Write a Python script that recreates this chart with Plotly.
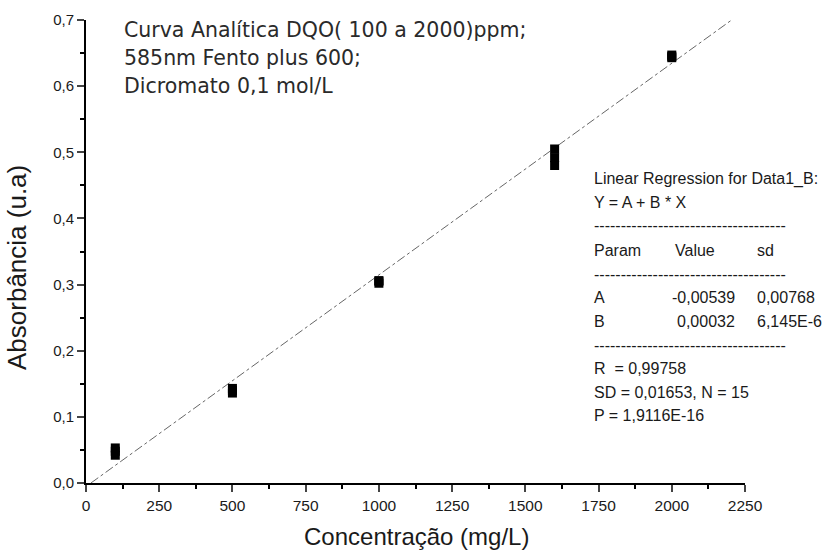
import plotly.graph_objects as go
import numpy as np

# Data (mg/L vs absorbance), 3 replicates per level
conc = [100, 100, 100, 500, 500, 500, 1000, 1000, 1000, 1600, 1600, 1600, 2000, 2000, 2000]
absb = [0.042, 0.048, 0.053, 0.136, 0.140, 0.143, 0.302, 0.305, 0.306, 0.480, 0.492, 0.505, 0.643, 0.645, 0.647]

# Regression parameters
A = -0.00539
B = 0.00032
fit_x = [17, 2250]

x_ticks = [0, 250, 500, 750, 1000, 1250, 1500, 1750, 2000, 2250]
y_ticks = [0.0, 0.1, 0.2, 0.3, 0.4, 0.5, 0.6, 0.7]
y_ticktext = ["0,0", "0,1", "0,2", "0,3", "0,4", "0,5", "0,6", "0,7"]

title_lines = ["Curva Analítica DQO( 100 a 2000)ppm;", "585nm Fento plus 600;", "Dicromato 0,1 mol/L"]

fig = go.Figure()
fx = np.array(fit_x, dtype=float)
fig.add_trace(go.Scatter(x=fx, y=A + B * fx, mode="lines",
                         line=dict(color="#666666", width=1, dash="dashdot"),
                         showlegend=False, hoverinfo="skip"))
fig.add_trace(go.Scatter(x=conc, y=absb, mode="markers",
                         marker=dict(symbol="square", size=9, color="black"),
                         showlegend=False))

L, R, T, Bm = 86, 84, 20, 68
W, H = 829, 551
pw, ph = W - L - R, H - T - Bm

def px(xp):
    return (xp - L) / pw

def py(yp):
    return (H - Bm - yp) / ph

font = "Liberation Sans, Arial, sans-serif"
wide = "DejaVu Sans, Verdana, sans-serif"
ink = "#1a1a1a"
annots = []
for i, t in enumerate(title_lines):
    annots.append(dict(x=px(122), y=py([30, 58, 86][i]), xref="paper", yref="paper", text=t,
                       showarrow=False, xanchor="left", yanchor="middle",
                       font=dict(size=20.5, color="#2a2a2a", family=wide)))

reg = [
    (592, 179, "Linear Regression for Data1_B:"),
    (592, 202, "Y = A + B * X"),
    (592, 226, "------------------------------------"),
    (592, 250, "Param"), (673, 250, "Value"), (755, 250, "sd"),
    (592, 274, "------------------------------------"),
    (592, 297, "A"), (670, 297, "-0,00539"), (755, 297, "0,00768"),
    (592, 321, "B"), (675, 321, "0,00032"), (755, 321, "6,145E-6"),
    (592, 345, "------------------------------------"),
    (592, 368, "R  = 0,99758"),
    (592, 392, "SD = 0,01653, N = 15"),
    (592, 415, "P = 1,9116E-16"),
]
for xp, yp, t in reg:
    annots.append(dict(x=px(xp), y=py(yp), xref="paper", yref="paper", text=t,
                       showarrow=False, xanchor="left", yanchor="middle",
                       font=dict(size=16, color=ink, family=font)))

# axis titles as annotations for exact placement
annots.append(dict(x=px(416), y=py(536), xref="paper", yref="paper", text="Concentração (mg/L)",
                   showarrow=False, xanchor="center", yanchor="middle",
                   font=dict(size=24, color=ink, family=font)))
annots.append(dict(x=px(17), y=py(268), xref="paper", yref="paper", text="Absorbância (u.a)",
                   showarrow=False, xanchor="center", yanchor="middle", textangle=-90,
                   font=dict(size=26, color=ink, family=font)))

fig.update_layout(
    width=W, height=H,
    margin=dict(l=L, r=R, t=T, b=Bm, autoexpand=False),
    plot_bgcolor="white", paper_bgcolor="white",
    font=dict(family=font, color=ink),
    annotations=annots,
    xaxis=dict(range=[0, 2250], tickvals=x_ticks, ticks="outside", ticklen=7, tickwidth=1.5,
               showline=True, linecolor="black", linewidth=1.8, showgrid=False, zeroline=False,
               automargin=False, tickfont=dict(size=15.5, color=ink),
               minor=dict(ticks="outside", ticklen=4, dtick=125, tick0=0, tickcolor="black", tickwidth=1.5)),
    yaxis=dict(range=[0, 0.7], tickvals=y_ticks, ticktext=y_ticktext, ticks="outside", ticklen=7,
               tickwidth=1.5, showline=True, linecolor="black", linewidth=1.8, showgrid=False,
               zeroline=False, automargin=False, tickfont=dict(size=15, color=ink),
               minor=dict(ticks="outside", ticklen=4, dtick=0.05, tick0=0, tickcolor="black", tickwidth=1.5)),
)

fig.write_html("out.html", config={"displayModeBar": False},
               post_script="document.body.style.margin='0';document.body.style.padding='0';")
